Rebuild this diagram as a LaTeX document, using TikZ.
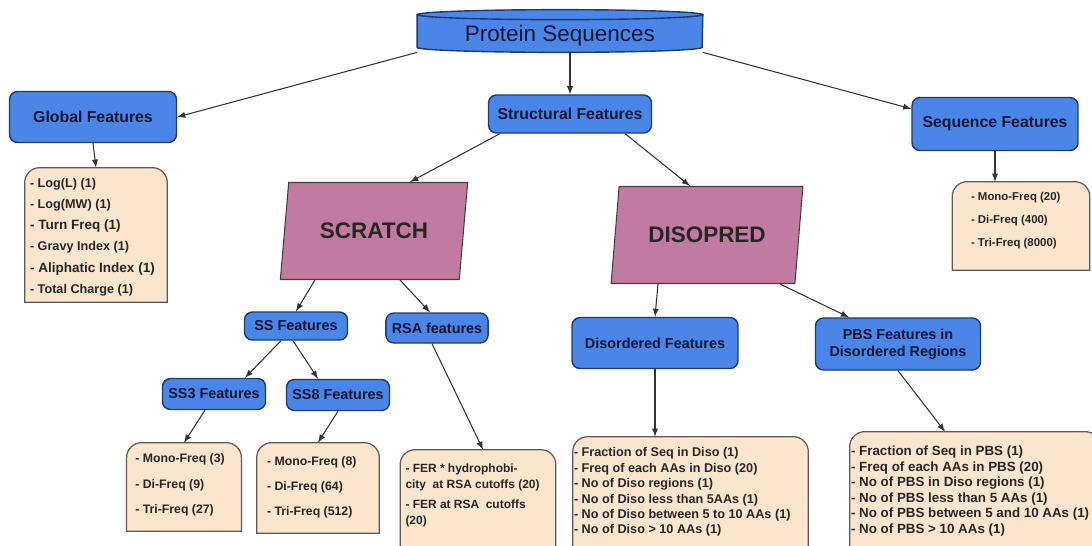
\documentclass[tikz,border=0pt]{standalone}
\usepackage{fontspec}
\setmainfont{Liberation Sans}
\usetikzlibrary{arrows,shapes.geometric,backgrounds}
\definecolor{featblue}{HTML}{4A86E8}
\definecolor{featedge}{HTML}{1F3A6E}
\definecolor{toolpink}{HTML}{C27BA0}
\definecolor{listfill}{HTML}{FCE5CD}
\definecolor{listedge}{HTML}{5E5A55}
\definecolor{navyink}{HTML}{0B1633}
\newcommand{\featlist}[3]{\parbox[c][#1][t]{#2}{\raggedright #3}}
\newcommand{\tabbox}[1]{\draw[listline] (#1.south west) -- ([yshift=-0.3cm]#1.north west)
  arc[start angle=180,end angle=90,radius=0.3cm] -- ([xshift=-0.3cm]#1.north east)
  arc[start angle=90,end angle=0,radius=0.3cm] -- (#1.south east) -- cycle;}

\begin{document}
\begin{tikzpicture}[x=0.02cm,y=-0.02cm,>=latex,
    protnode/.style={minimum width=5.7cm,minimum height=0.64cm,inner sep=0pt,text=navyink,font=\fontsize{12.8}{15}\selectfont},
    featbox/.style={draw=featedge,fill=featblue,line width=0.8pt,rounded corners=0.16cm,text=navyink,align=center,font=\bfseries\fontsize{9}{10.5}\selectfont},
    subbox/.style={featbox,font=\bfseries\fontsize{8.2}{9.6}\selectfont},
    toolbox/.style={trapezium,trapezium left angle=78,trapezium right angle=102,trapezium stretches=true,draw=black!75,fill=toolpink,line width=0.6pt,text=black!85,font=\bfseries\fontsize{12.8}{15}\selectfont},
    listnode/.style={text=black!85,font=\bfseries\fontsize{7.2}{8.8}\selectfont},
    listline/.style={draw=listedge,fill=listfill,line width=0.7pt},
    conn/.style={->,draw=black!80,line width=0.6pt}]
    \useasboundingbox (0,0) rectangle (1092,545);
    \clip (0,0) rectangle (1092,545);

    \node[protnode] (prot) at (560,36) {Protein Sequences};

    \node[featbox,minimum width=3.34cm,minimum height=1.02cm] (glob) at (93,117) {Global Features};
    \node[featbox,minimum width=3.26cm,minimum height=0.76cm] (struct) at (570,114) {Structural Features};
    \node[featbox,minimum width=3.32cm,minimum height=1.06cm] (seq) at (995,124) {Sequence Features};

    \node[toolbox,minimum width=3.76cm,minimum height=1.94cm] (scratch) at (374,231) {SCRATCH};
    \node[toolbox,minimum width=3.86cm,minimum height=1.94cm] (disopred) at (707,235) {DISOPRED};

    \node[subbox,minimum width=2.06cm,minimum height=0.56cm] (ss) at (296,326) {SS Features};
    \node[subbox,minimum width=2.04cm,minimum height=0.6cm] (rsa) at (437,328) {RSA features};
    \node[subbox,minimum width=3.32cm,minimum height=1.02cm] (disfeat) at (655,343) {Disordered Features};
    \node[subbox,minimum width=3.3cm,minimum height=1.04cm] (pbsfeat) at (898,344) {PBS Features in\\Disordered Regions};
    \node[subbox,minimum width=2.04cm,minimum height=0.62cm] (ss3) at (214,394) {SS3 Features};
    \node[subbox,minimum width=2.06cm,minimum height=0.62cm] (ss8) at (338,395) {SS8 Features};

    \node[listnode,inner xsep=0.1cm,inner ysep=0.2cm] (globlist) at (96,235)
      {\featlist{2.28cm}{2.64cm}{\fontsize{7.2}{12.1}\selectfont - Log(L) (1)\\ - Log(MW) (1)\\
      {\fontsize{7.7}{12.1}\selectfont - Turn Freq (1)}\\ - Gravy Index (1)\\
      {\fontsize{7.7}{12.1}\selectfont - Aliphatic Index (1)}\\ - Total Charge (1)}};
    \node[listnode,inner xsep=0.37cm,inner ysep=0.21cm] (seqlist) at (1021,226)
      {\featlist{1.34cm}{2.0cm}{\fontsize{6.5}{13}\selectfont - Mono-Freq (20)\\ - Di-Freq (400)\\ - Tri-Freq (8000)}};
    \node[listnode,inner xsep=0.166cm,inner ysep=0.22cm] (ss3list) at (184,487)
      {\featlist{1.32cm}{1.95cm}{\fontsize{7}{14.5}\selectfont - Mono-Freq (3)\\ - Di-Freq (9)\\ - Tri-Freq (27)}};
    \node[listnode,inner xsep=0.2cm,inner ysep=0.28cm] (ss8list) at (318,488)
      {\featlist{1.24cm}{2.04cm}{\fontsize{7}{14.2}\selectfont - Mono-Freq (8)\\ - Di-Freq (64)\\ - Tri-Freq (512)}};
    \node[listnode,inner xsep=0.1cm,inner ysep=0.28cm] (rsalist) at (478,512.5)
      {\featlist{1.94cm}{2.9cm}{\fontsize{6.8}{9.1}\selectfont - FER * hydrophobi-\\ city~~at RSA cutoffs (20)\\[2.3pt]
      - FER at RSA~~cutoffs\\ (20)}};
    \node[listnode,inner xsep=0.02cm,inner ysep=0.21cm] (dislist) at (690.5,506)
      {\featlist{2.34cm}{4.66cm}{\fontsize{7.2}{8.8}\selectfont - Fraction of Seq in Diso (1)\\ - Freq of each AAs in Diso (20)\\
      - No of Diso regions (1)\\ - No of Diso less than 5AAs (1)\\ - No of Diso between 5 to 10 AAs (1)\\ - No of Diso > 10 AAs (1)}};
    \node[listnode,inner xsep=0.02cm,inner ysep=0.28cm] (pbslist) at (975,503.5)
      {\featlist{2.3cm}{4.96cm}{\fontsize{7.6}{8.85}\selectfont - Fraction of Seq in PBS (1)\\ - Freq of each AAs in PBS (20)\\
      - No of PBS in Diso regions (1)\\ - No of PBS less than 5 AAs (1)\\ - No of PBS between 5 and 10 AAs (1)\\ - No of PBS > 10 AAs (1)}};

    \begin{scope}[on background layer]
      \filldraw[fill=featblue,draw=featedge,line width=0.8pt] ([yshift=0.1cm]prot.north west) -- ([yshift=0.1cm]prot.south west)
        arc[start angle=180,end angle=360,x radius=2.85cm,y radius=0.1cm] -- ([yshift=0.1cm]prot.north east) -- cycle;
      \filldraw[fill=featblue,draw=featedge,line width=0.8pt] ([yshift=0.1cm]prot.north) ellipse [x radius=2.85cm,y radius=0.1cm];
      \tabbox{globlist}
      \tabbox{seqlist}
      \tabbox{ss3list}
      \tabbox{ss8list}
      \tabbox{rsalist}
      \tabbox{dislist}
      \tabbox{pbslist}
    \end{scope}

    \draw[conn] (prot.south west) -- (glob.east);
    \draw[conn] (prot.south -| struct.north) -- (struct.north);
    \draw[conn] (prot.south east) -- ([yshift=-0.24cm]seq.north west);
    \draw[conn] (glob.south) -- (globlist.north);
    \draw[conn] (seq.south) -- (seq.south |- seqlist.north);
    \draw[conn] ([xshift=0.24cm]struct.south west) -- ([xshift=0.72cm]scratch.north);
    \draw[conn] ([xshift=-0.54cm]struct.south east) -- ([xshift=-0.34cm]disopred.north);
    \draw[conn] ([xshift=-1.18cm]scratch.south) -- (ss.north);
    \draw[conn] ([xshift=0.52cm]scratch.south) -- ([xshift=-0.14cm]rsa.north);
    \draw[conn] ([xshift=-0.98cm]disopred.south) -- (disfeat.north);
    \draw[conn] ([xshift=1.46cm]disopred.south) -- ([xshift=-0.98cm]pbsfeat.north);
    \draw[conn] ([xshift=-0.3cm]ss.south) -- ([xshift=0.62cm]ss3.north);
    \draw[conn] ([xshift=-0.06cm]ss.south) -- ([xshift=-0.4cm]ss8.north);
    \draw[conn] ([xshift=-0.1cm]rsa.south) -- ([xshift=0.1cm]rsalist.north);
    \draw[conn] ([xshift=-0.18cm]ss3.south) -- (ss3list.north);
    \draw[conn] (ss8.south) -- (ss8list.north);
    \draw[conn] (disfeat.south) -- (disfeat.south |- dislist.north);
    \draw[conn] (pbsfeat.south) -- ([xshift=-0.6cm]pbslist.north);
\end{tikzpicture}
\end{document}
